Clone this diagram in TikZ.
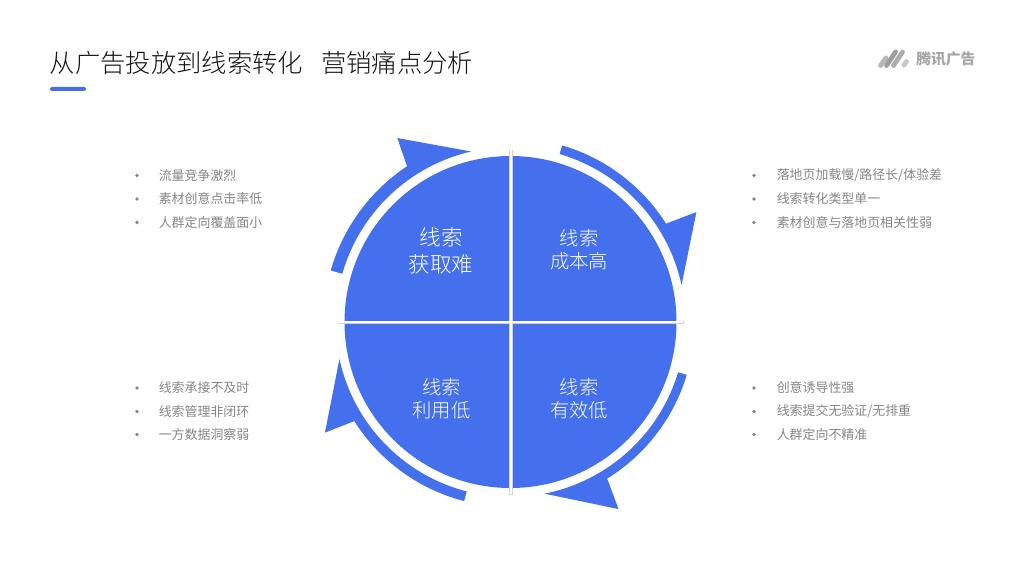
\documentclass[tikz,border=0pt]{standalone}
\usepackage{fontspec}
\setmainfont{Noto Sans CJK SC}[UprightFont=* Light,BoldFont=* Bold]
\newfontfamily\cjkreg{Noto Sans CJK SC}
\definecolor{brand}{HTML}{4470EE}
\definecolor{bulletgray}{HTML}{868686}
\definecolor{logogray}{HTML}{A6A6A6}
\tikzset{
  titletext/.style={anchor=west,text=black!92,inner sep=0pt,font=\fontsize{19}{22}\selectfont},
  itemtext/.style={anchor=west,text=bulletgray,inner sep=0pt,font=\cjkreg\fontsize{9.7}{12}\selectfont},
  bulletdot/.style={circle,fill=bulletgray,minimum size=2.8pt,inner sep=0pt},
  quadtext/.style={align=center,text=white,inner sep=0pt},
  quadA/.style={font=\fontsize{16.2}{20.2}\selectfont},
  quadB/.style={font=\fontsize{14.5}{17.4}\selectfont},
  bar/.style={fill=white,draw=black!18,line width=0.5pt},
  ring/.style={fill=brand},
  capsule/.style={line cap=round,line width=3.6pt}
}
\newcommand{\arrowarc}[5]{%
  % start angle, inner end angle, notch angle, tip angle, outer radius
  \fill[ring] (#1:175) arc[start angle=#1,end angle=#2,radius=175]
    -- (#4:216) -- (#3:#5) arc[start angle=#3,end angle=#1,radius=#5] -- cycle;
}
\begin{document}
\begin{tikzpicture}[x=0.75pt,y=0.75pt]
\useasboundingbox (0,0) rectangle (1024,576);
\fill[white] (0,0) rectangle (1024,576);
% title
\node[titletext] (title) at (49.5,513) {从广告投放到线索转化\hspace{13.5pt}营销痛点分析};
\fill[brand,rounded corners=1.5pt] (50,485) rectangle (86,489);
% main disc
\fill[brand] (510.5,254) circle[radius=166];
\draw[bar] (338,252.9) rectangle (683,255.1);
\draw[bar] (509.7,82) rectangle (511.9,426);
\fill[white] (338.3,253.2) rectangle (682.7,254.8);
\fill[white] (510,82.3) rectangle (511.6,425.7);
% cycle arrows
\begin{scope}[shift={(510.5,254)}]
\arrowarc{164}{103}{123.6}{121.6}{187}
\arrowarc{73.7}{12.2}{32.3}{30.6}{184}
\arrowarc{-16.7}{-78.8}{-58.3}{-60}{184}
\arrowarc{-104.5}{-167.8}{-147.6}{-149.2}{185}
\end{scope}
% quadrant labels
\node[quadtext,quadA] (q1) at (441,325.5) {线索\\获取难};
\node[quadtext,quadB] (q2) at (579,326.5) {线索\\成本高};
\node[quadtext,quadB] (q3) at (441.5,177.5) {线索\\利用低};
\node[quadtext,quadB] (q4) at (579,177.5) {线索\\有效低};
% bullet lists
\foreach \name/\dx/\tx/\yy/\txt in {
  a1/137/158.5/400.5/{流量竞争激烈}, a2/137/158.5/377/{素材创意点击率低}, a3/137/158.5/353.5/{人群定向覆盖面小},
  b1/754/776.5/400.5/{落地页加载慢/路径长/体验差}, b2/754/776.5/377/{线索转化类型单一}, b3/754/776.5/353.5/{素材创意与落地页相关性弱},
  c1/137/158.5/188/{线索承接不及时}, c2/137/158.5/164.5/{线索管理非闭环}, c3/137/158.5/141.5/{一方数据洞察弱},
  d1/754/776.5/188/{创意诱导性强}, d2/754/776.5/164.5/{线索提交无验证/无排重}, d3/754/776.5/141.5/{人群定向不精准}}{
  \node[bulletdot] (dot\name) at (\dx,\yy) {};
  \node[itemtext] (txt\name) at (\tx,\yy) {\txt};
}
% logo
\draw[capsule,draw=black!28] (880.5,510.5) -- (886,518);
\draw[capsule,draw=black!38] (886.5,510.5) -- (895.5,524);
\draw[capsule,draw=black!32] (893.5,510.5) -- (902.5,524);
\draw[capsule,draw=black!22] (904,511) -- (906.5,514.5);
\node[anchor=west,inner sep=0pt,text=logogray,font=\cjkreg\bfseries\fontsize{11.1}{12}\selectfont] (logotxt) at (916,517) {腾讯广告};
\end{tikzpicture}
\end{document}
